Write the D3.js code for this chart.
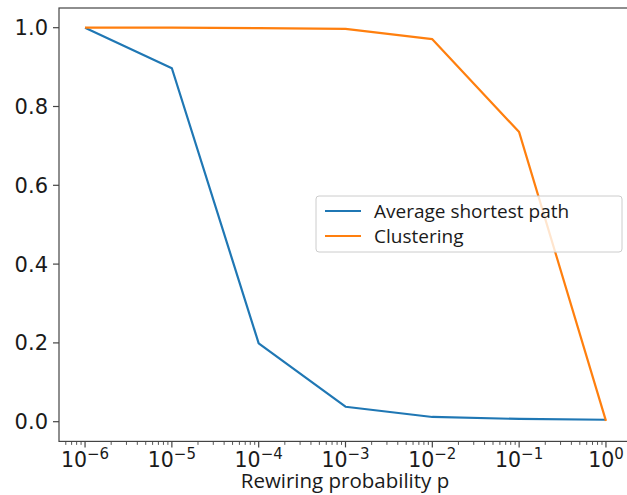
<!DOCTYPE html>
<html>
<head>
<meta charset="utf-8">
<script src="https://cdn.jsdelivr.net/npm/d3@7"></script>
<style>
  body { margin: 0; background: #fff; }
  svg { display: block; }
  text { font-family: "Open Sans", "Noto Sans", sans-serif; fill: #1a1a1a; }
  text.tick { font-family: "DejaVu Sans", sans-serif; }
</style>
</head>
<body>
<div id="chart"></div>
<script>
// Rewiring probabilities (x) and normalised measures
const probs = [1e-6, 1e-5, 1e-4, 1e-3, 1e-2, 1e-1, 1];
const pathLength = [1.0, 0.897, 0.199, 0.038, 0.012, 0.007, 0.005];
const clustering = [1.0, 1.0, 0.999, 0.997, 0.971, 0.735, 0.002];
const seriesNames = ["Average shortest path", "Clustering"];
const seriesColors = ["#1f77b4", "#ff7f0e"];
const yTicks = [0.0, 0.2, 0.4, 0.6, 0.8, 1.0];
const xExponents = [-6, -5, -4, -3, -2, -1, 0];

const width = 627, height = 495;
const plotLeft = 59, plotRight = 632, plotTop = 8, plotBottom = 441.4;

const svg = d3.select("#chart").append("svg")
    .attr("width", width)
    .attr("height", height);

const x = d3.scaleLog()
    .domain([Math.pow(10, -6.3), Math.pow(10, 0.3)])
    .range([plotLeft, plotRight]);
const y = d3.scaleLinear()
    .domain([-0.05, 1.05])
    .range([plotBottom, plotTop]);

// lines
const line = d3.line()
    .x(d => x(d[0]))
    .y(d => y(d[1]));

[pathLength, clustering].forEach((vals, i) => {
    svg.append("path")
        .datum(probs.map((p, j) => [p, vals[j]]))
        .attr("fill", "none")
        .attr("stroke", seriesColors[i])
        .attr("stroke-width", 2.2)
        .attr("stroke-linejoin", "round")
        .attr("d", line);
});

// frame
svg.append("rect")
    .attr("x", plotLeft).attr("y", plotTop)
    .attr("width", plotRight - plotLeft).attr("height", plotBottom - plotTop)
    .attr("fill", "none")
    .attr("stroke", "#444")
    .attr("stroke-width", 1.2);

// y axis ticks
const yg = svg.append("g");
yTicks.forEach(t => {
    yg.append("line")
        .attr("x1", plotLeft - 6).attr("x2", plotLeft)
        .attr("y1", y(t)).attr("y2", y(t))
        .attr("stroke", "#444").attr("stroke-width", 1.2);
    yg.append("text")
        .attr("class", "tick")
        .attr("x", plotLeft - 11)
        .attr("y", y(t))
        .attr("dy", "0.36em")
        .attr("text-anchor", "end")
        .style("font-size", "21px")
        .text(t.toFixed(1));
});

// x axis ticks (major + minor)
const xg = svg.append("g");
xExponents.forEach(e => {
    const v = Math.pow(10, e);
    xg.append("line")
        .attr("x1", x(v)).attr("x2", x(v))
        .attr("y1", plotBottom).attr("y2", plotBottom + 6)
        .attr("stroke", "#444").attr("stroke-width", 1.2);
    const t = xg.append("text")
        .attr("class", "tick")
        .attr("x", x(v))
        .attr("y", 467)
        .attr("text-anchor", "middle")
        .style("font-size", "20.5px");
    t.append("tspan").text("10");
    t.append("tspan")
        .attr("dy", -8)
        .style("font-size", "15px")
        .text(e === 0 ? "0" : "\u2212" + Math.abs(e));
});
// minor ticks
const minor = [];
for (let e = -7; e <= 0; e++) {
    for (let m = 2; m <= 9; m++) {
        const v = m * Math.pow(10, e);
        const px = x(v);
        if (px >= plotLeft && px <= plotRight) minor.push(v);
    }
}
xg.selectAll(".minor").data(minor).enter().append("line")
    .attr("class", "minor")
    .attr("x1", d => x(d)).attr("x2", d => x(d))
    .attr("y1", plotBottom).attr("y2", plotBottom + 3.5)
    .attr("stroke", "#444").attr("stroke-width", 0.9);

// x label
svg.append("text")
    .attr("x", 345)
    .attr("y", 488)
    .attr("text-anchor", "middle")
    .style("font-size", "20.5px")
    .text("Rewiring probability p");

// legend
const lg = svg.append("g").attr("transform", "translate(316,196)");
lg.append("rect")
    .attr("width", 306).attr("height", 56)
    .attr("rx", 3)
    .attr("fill", "white").attr("fill-opacity", 0.8)
    .attr("stroke", "#ccc").attr("stroke-width", 1);
seriesNames.forEach((name, i) => {
    const yy = 15 + i * 25;
    lg.append("line")
        .attr("x1", 9).attr("x2", 45)
        .attr("y1", yy).attr("y2", yy)
        .attr("stroke", seriesColors[i]).attr("stroke-width", 2.2);
    lg.append("text")
        .attr("x", 58).attr("y", yy)
        .attr("dy", "0.35em")
        .style("font-size", "19px")
        .text(name);
});
</script>
</body>
</html>
